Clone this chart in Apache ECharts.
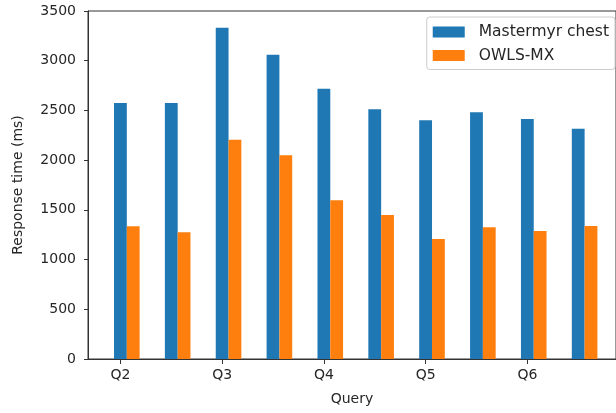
<!DOCTYPE html>
<html>
<head>
<meta charset="utf-8">
<script src="https://cdn.jsdelivr.net/npm/echarts@6/dist/echarts.min.js"></script>
<style>
  html, body { margin: 0; padding: 0; background: #ffffff; }
  #chart { width: 616px; height: 413px; }
</style>
</head>
<body>
<div id="chart"></div>
<script>
// Query groups (one pair of bars each) and the labelled ticks
const groups = [0, 1, 2, 3, 4, 5, 6, 7, 8, 9];
const tickPositions = [0, 2, 4, 6, 8];
const tickLabels = ['Q2', 'Q3', 'Q4', 'Q5', 'Q6'];

// Response times in milliseconds
const mastermyrChest = [2575, 2575, 3332, 3061, 2719, 2511, 2400, 2481, 2414, 2316];
const owlsMx = [1334, 1274, 2206, 2048, 1596, 1448, 1207, 1324, 1287, 1338];

const seriesNames = ['Mastermyr chest', 'OWLS-MX'];

const FONT = 'DejaVu Sans';
const TEXT = '#262626';
const AXIS = '#333333';

// horizontal extent of the plot, in group units
const xMin = -0.638;
const xMax = 9.742;
// the two bars of a group sit left/right of their centre; shift so the first bar is centred on the tick
const pairShift = 0.125;

const chart = echarts.init(document.getElementById('chart'), null, { renderer: 'canvas' });

chart.setOption({
  animation: false,
  backgroundColor: '#ffffff',
  textStyle: { fontFamily: FONT },
  grid: {
    left: 88, top: 11, right: -4, bottom: 54,
    show: true, borderColor: AXIS, borderWidth: 1, backgroundColor: 'transparent'
  },
  legend: {
    orient: 'vertical',
    right: 1, top: 17,
    padding: [7, 6, 6, 6],
    itemWidth: 32, itemHeight: 11, itemGap: 7.5,
    borderColor: '#cccccc', borderWidth: 1, borderRadius: 3,
    backgroundColor: '#ffffff',
    icon: 'rect',
    textStyle: { fontFamily: FONT, fontSize: 15.5, color: TEXT, padding: [0, 0, 0, 9] },
    data: seriesNames
  },
  xAxis: [
    {
      // axis carrying the bars
      type: 'value', min: xMin - pairShift, max: xMax - pairShift,
      show: false
    },
    {
      // axis carrying the tick marks and labels
      type: 'value', min: xMin, max: xMax,
      position: 'bottom',
      name: 'Query', nameLocation: 'middle', nameGap: 33,
      nameTextStyle: { fontFamily: FONT, fontSize: 14, color: TEXT },
      axisLine: { show: true, onZero: false, lineStyle: { color: AXIS, width: 1 } },
      axisTick: { show: true, inside: false, length: 5, customValues: tickPositions, lineStyle: { color: AXIS } },
      axisLabel: {
        show: true, margin: 9, fontFamily: FONT, fontSize: 14, color: TEXT,
        customValues: tickPositions,
        formatter: function (v) {
          const k = tickPositions.indexOf(Math.round(v));
          return k >= 0 ? tickLabels[k] : '';
        }
      },
      splitLine: { show: false }
    }
  ],
  yAxis: {
    type: 'value', min: 0, max: 3500, interval: 500,
    name: 'Response time (ms)', nameLocation: 'middle', nameGap: 63, nameRotate: 90,
    nameTextStyle: { fontFamily: FONT, fontSize: 14, color: TEXT },
    axisLine: { show: true, onZero: false, lineStyle: { color: AXIS, width: 1 } },
    axisTick: { show: true, inside: false, length: 4, lineStyle: { color: AXIS } },
    axisLabel: {
      margin: 12, fontFamily: FONT, fontSize: 14, color: TEXT,
      formatter: function (v) { return String(v); }
    },
    splitLine: { show: false }
  },
  series: [
    {
      name: seriesNames[0], type: 'bar', xAxisIndex: 0,
      barWidth: 12.8, barGap: '0%',
      itemStyle: { color: '#1f77b4' },
      data: groups.map((g, i) => [g, mastermyrChest[i]])
    },
    {
      name: seriesNames[1], type: 'bar', xAxisIndex: 0,
      barWidth: 12.8, barGap: '0%',
      itemStyle: { color: '#ff7f0e' },
      data: groups.map((g, i) => [g, owlsMx[i]])
    }
  ]
});
</script>
</body>
</html>
